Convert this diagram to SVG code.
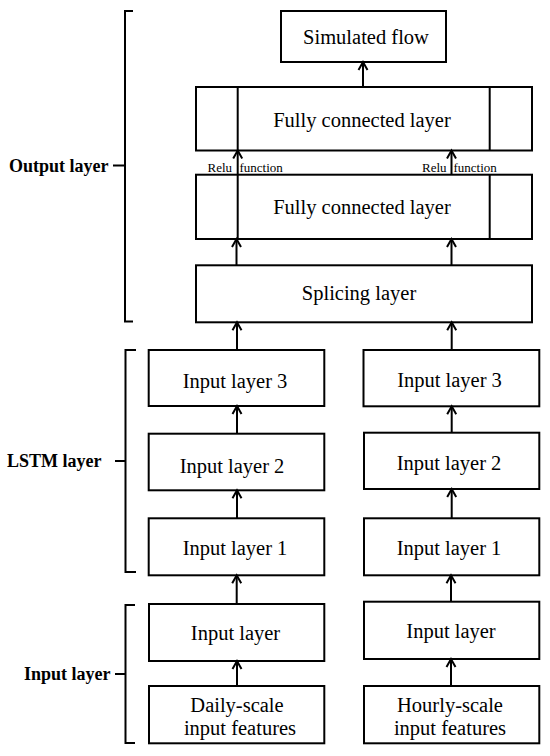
<svg xmlns="http://www.w3.org/2000/svg" width="550" height="756" viewBox="0 0 550 756" font-family="Liberation Serif, DejaVu Serif, serif">
<defs>
<marker id="ah" markerUnits="userSpaceOnUse" viewBox="-1 -1 12 12" refX="9" refY="5" markerWidth="12" markerHeight="12" orient="auto" overflow="visible">
<path d="M1,0.5 L9,5 L1,9.5" fill="none" stroke="#000" stroke-width="2"/>
</marker>
<style>
.box{fill:#fff;stroke:#000;stroke-width:2}
.div{stroke:#000;stroke-width:2}
.t{font-size:20.5px;fill:#000;text-anchor:middle}
.s{font-size:13px;fill:#000}
.lab{font-size:18px;font-weight:bold;fill:#000}
.br{fill:none;stroke:#000;stroke-width:2}
.c{stroke:#000;stroke-width:2;fill:none;marker-end:url(#ah)}
</style>
</defs>
<rect width="550" height="756" fill="#fff"/>

<g id="bracket-output">
<path class="br" d="M133,11 H125 V321.5 H133 M113,165.5 H125"/>
<text class="lab" x="9" y="172" font-family="Liberation Serif, serif">Output layer</text>
</g>
<g id="bracket-lstm">
<path class="br" d="M136,350 H125.5 V572 H136 M115,461 H125.5"/>
<text class="lab" x="7" y="467" font-family="Liberation Serif, serif">LSTM layer</text>
</g>
<g id="bracket-input">
<path class="br" d="M135,605 H125.5 V743 H135 M115,674 H125.5"/>
<text class="lab" x="24" y="680" font-family="Liberation Serif, serif">Input layer</text>
</g>

<g id="simulated-flow">
<rect class="box" x="281" y="11" width="165" height="51"/>
<text class="t" x="366" y="44" font-family="Liberation Serif, serif">Simulated flow</text>
</g>
<g id="fc2">
<rect class="box" x="196" y="87" width="336" height="63.5"/>
<line class="div" x1="237.7" y1="87" x2="237.7" y2="150.5"/>
<line class="div" x1="489.7" y1="87" x2="489.7" y2="150.5"/>
<text class="t" x="362" y="126.5" font-family="Liberation Serif, serif">Fully connected layer</text>
</g>
<g id="relu-labels" font-family="Liberation Serif, serif">
<text class="s" x="207.5" y="171.5">Relu</text>
<text class="s" x="239.5" y="171.5">function</text>
<text class="s" x="422" y="171.5">Relu</text>
<text class="s" x="453.5" y="171.5">function</text>
</g>
<g id="fc1">
<rect class="box" x="196" y="174.7" width="336" height="64.3"/>
<line class="div" x1="237.7" y1="174.7" x2="237.7" y2="239"/>
<line class="div" x1="489.7" y1="174.7" x2="489.7" y2="239"/>
<text class="t" x="362" y="214" font-family="Liberation Serif, serif">Fully connected layer</text>
</g>
<g id="splicing">
<rect class="box" x="196" y="265.3" width="336" height="57"/>
<text class="t" x="359" y="300" font-family="Liberation Serif, serif">Splicing layer</text>
</g>

<g id="d-il3">
<rect class="box" x="148.7" y="350" width="175.6" height="56"/>
<text class="t" x="235" y="387.5" font-family="Liberation Serif, serif">Input layer 3</text>
</g>
<g id="d-il2">
<rect class="box" x="148.7" y="433.7" width="175.6" height="56.6"/>
<text class="t" x="232" y="472.5" font-family="Liberation Serif, serif">Input layer 2</text>
</g>
<g id="d-il1">
<rect class="box" x="148.7" y="518.3" width="175.6" height="57"/>
<text class="t" x="235" y="555" font-family="Liberation Serif, serif">Input layer 1</text>
</g>
<g id="d-input">
<rect class="box" x="149" y="604" width="175.3" height="57"/>
<text class="t" x="235.5" y="639.5" font-family="Liberation Serif, serif">Input layer</text>
</g>
<g id="d-features" font-family="Liberation Serif, serif">
<rect class="box" x="149" y="686" width="175.3" height="57.3"/>
<text class="t" x="237" y="712">Daily-scale</text>
<text class="t" x="240" y="735">input features</text>
</g>

<g id="h-il3">
<rect class="box" x="363.5" y="350" width="175.8" height="56.3"/>
<text class="t" x="449.5" y="386.5" font-family="Liberation Serif, serif">Input layer 3</text>
</g>
<g id="h-il2">
<rect class="box" x="364" y="432.7" width="175.3" height="56.3"/>
<text class="t" x="449" y="469.5" font-family="Liberation Serif, serif">Input layer 2</text>
</g>
<g id="h-il1">
<rect class="box" x="364" y="518.3" width="175.3" height="57"/>
<text class="t" x="449" y="554.5" font-family="Liberation Serif, serif">Input layer 1</text>
</g>
<g id="h-input">
<rect class="box" x="364" y="601.7" width="175.3" height="57.3"/>
<text class="t" x="451" y="637.5" font-family="Liberation Serif, serif">Input layer</text>
</g>
<g id="h-features" font-family="Liberation Serif, serif">
<rect class="box" x="364" y="686" width="175.3" height="57.3"/>
<text class="t" x="450" y="712">Hourly-scale</text>
<text class="t" x="450" y="735">input features</text>
</g>

<g id="connectors">
<line class="c" x1="363" y1="87" x2="363" y2="62"/>
<line class="c" x1="237.7" y1="174.7" x2="237.7" y2="150.5"/>
<line class="c" x1="451.5" y1="174.7" x2="451.5" y2="150.5"/>
<line class="c" x1="236.5" y1="265.3" x2="236.5" y2="239"/>
<line class="c" x1="451.5" y1="265.3" x2="451.5" y2="239"/>
<line class="c" x1="237" y1="350" x2="237" y2="322.3"/>
<line class="c" x1="451.7" y1="350" x2="451.7" y2="322.3"/>
<line class="c" x1="237" y1="433.7" x2="237" y2="406"/>
<line class="c" x1="451.7" y1="432.7" x2="451.7" y2="406.3"/>
<line class="c" x1="237" y1="518.3" x2="237" y2="490.3"/>
<line class="c" x1="451.7" y1="518.3" x2="451.7" y2="489"/>
<line class="c" x1="236.7" y1="604" x2="236.7" y2="575.3"/>
<line class="c" x1="451" y1="601.7" x2="451" y2="575.3"/>
<line class="c" x1="237" y1="686" x2="237" y2="661"/>
<line class="c" x1="451" y1="686" x2="451" y2="659"/>
</g>
</svg>
